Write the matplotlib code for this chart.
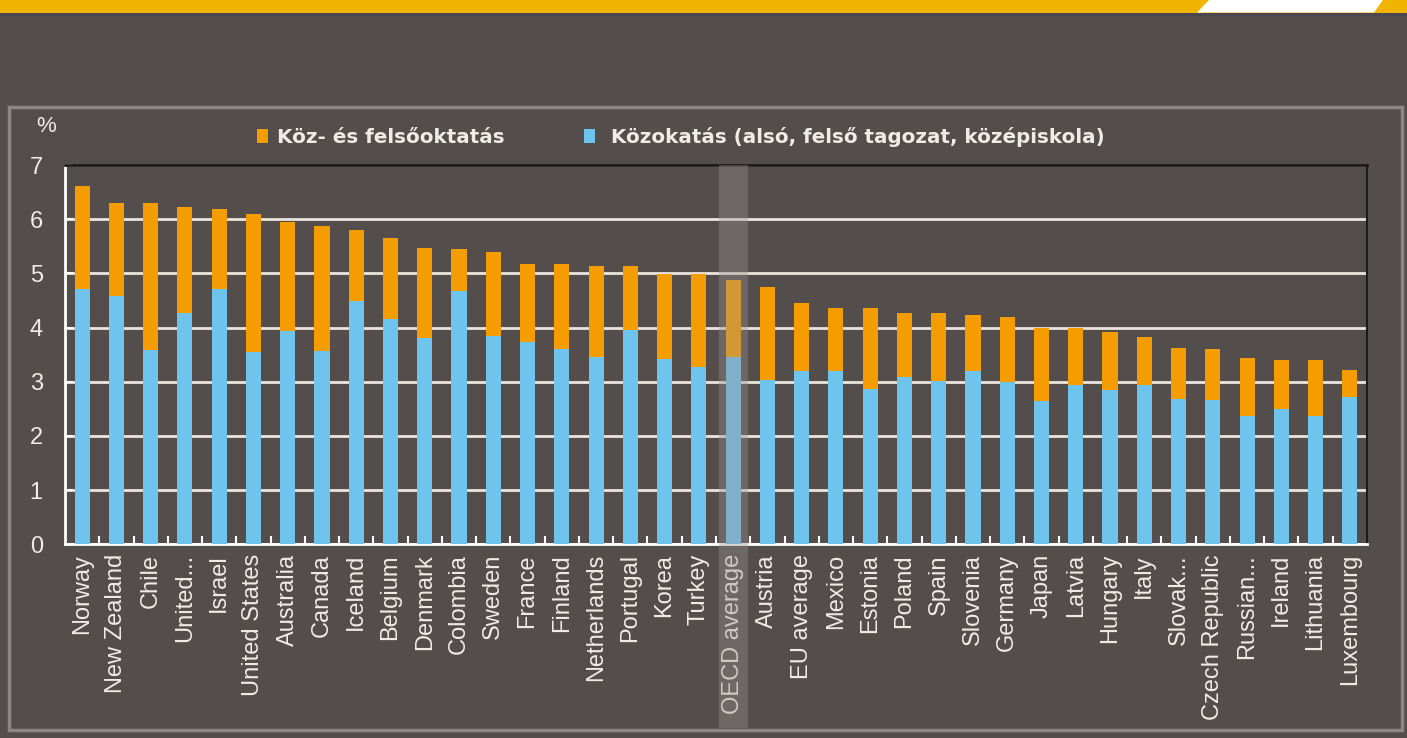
import matplotlib
matplotlib.use("Agg")
import matplotlib.pyplot as plt
import numpy as np
from matplotlib.patches import Rectangle, Polygon

# values (% of GDP)
countries = ["Norway", "New Zealand", "Chile", "United...", "Israel", "United States",
             "Australia", "Canada", "Iceland", "Belgium", "Denmark", "Colombia", "Sweden",
             "France", "Finland", "Netherlands", "Portugal", "Korea", "Turkey", "OECD average",
             "Austria", "EU average", "Mexico", "Estonia", "Poland", "Spain", "Slovenia",
             "Germany", "Japan", "Latvia", "Hungary", "Italy", "Slovak...", "Czech Republic",
             "Russian...", "Ireland", "Lithuania", "Luxembourg"]
kozokatas = [4.71, 4.59, 3.59, 4.27, 4.72, 3.54, 3.94, 3.57, 4.49, 4.16, 3.81, 4.68, 3.85,
             3.73, 3.60, 3.45, 3.96, 3.42, 3.28, 3.46, 3.03, 3.20, 3.19, 2.87, 3.08, 3.02,
             3.20, 2.99, 2.65, 2.94, 2.85, 2.94, 2.68, 2.66, 2.36, 2.50, 2.36, 2.71]
osszes = [6.62, 6.30, 6.30, 6.22, 6.19, 6.10, 5.94, 5.87, 5.80, 5.65, 5.46, 5.45, 5.40,
          5.17, 5.17, 5.13, 5.13, 4.98, 4.98, 4.87, 4.74, 4.45, 4.36, 4.36, 4.27, 4.27,
          4.23, 4.20, 4.00, 4.00, 3.91, 3.83, 3.62, 3.61, 3.43, 3.40, 3.40, 3.22]
highlight = "OECD average"
legend_labels = ["Köz- és felsőoktatás", " Közokatás (alsó, felső tagozat, középiskola)"]

BG = "#534e4b"
ORANGE = "#f49c00"
BLUE = "#6ec4ec"
TXT = "#efebe6"
GRID = "#ebe5de"

W, H = 1407, 738
fig = plt.figure(figsize=(W / 100, H / 100), dpi=100, facecolor=BG)

# decoration: yellow banner and panel frame (pixel coordinates)
deco = fig.add_axes([0, 0, 1, 1], zorder=0)
deco.set_xlim(0, W)
deco.set_ylim(H, 0)
deco.axis("off")
deco.add_patch(Rectangle((0, 0), W, 12.5, color="#f0b400", lw=0))
deco.add_patch(Polygon([(1209, 0), (1197, 12.5), (1374, 12.5), (1383, 0)], color="white", lw=0))
deco.add_patch(Rectangle((0, 12.5), W, 3.5, color="#4a4650", lw=0))
deco.add_patch(Rectangle((9, 107), 1393, 623, fill=False, edgecolor="#8c8784", lw=2.5))

# main chart
ax = fig.add_axes([65 / W, 1 - 544.3 / H, (1367 - 65) / W, (544.3 - 165) / H], zorder=1)
ax.set_facecolor(BG)

x = np.arange(len(countries))
lower = np.array(kozokatas)
upper = np.array(osszes) - lower
b_low = ax.bar(x, lower, width=0.44, color=BLUE, zorder=3)
b_up = ax.bar(x, upper, bottom=lower, width=0.44, color=ORANGE, zorder=3)

ax.set_xlim(-0.5, len(countries) - 0.5)
ax.set_ylim(0, 7)
ax.set_yticks(range(8))
ax.yaxis.grid(True, color=GRID, lw=2)
ax.set_axisbelow(True)

ax.set_xticks(x)
ax.set_xticklabels(countries, rotation=90, fontsize=17, family="Liberation Sans", color=TXT)
ax.set_xticks(x[:-1] + 0.5, minor=True)
ax.tick_params(axis="x", which="major", length=0, pad=7)
ax.tick_params(axis="x", which="minor", direction="in", length=6, width=1.5, color="white")
ax.tick_params(axis="y", direction="in", length=6, width=1.5, color="white",
               labelcolor=TXT, labelsize=17, pad=16)
for lab in ax.get_yticklabels():
    lab.set_family("Liberation Sans")

ax.spines["left"].set_color("white")
ax.spines["left"].set_linewidth(2)
ax.spines["bottom"].set_color("white")
ax.spines["bottom"].set_linewidth(2)
ax.spines["top"].set_color("#1c1a1a")
ax.spines["top"].set_linewidth(2)
ax.spines["right"].set_color("#1c1a1a")
ax.spines["right"].set_linewidth(1.5)

# shaded band over the OECD average column, reaching into the label area
i = countries.index(highlight)
band = ax.axvspan(i - 0.42, i + 0.42, ymin=-0.485, ymax=1, color="#9a9490", alpha=0.38,
                  lw=0, zorder=6)
band.set_clip_on(False)

fig.text(46 / W, 1 - 126 / H, "%", ha="center", va="center", fontsize=16,
         family="Liberation Sans", color=TXT)

fig.legend(handles=[b_up, b_low], labels=legend_labels, loc="center left",
           bbox_to_anchor=(257 / W, 1 - 137 / H), ncol=2, frameon=False,
           prop={"family": "DejaVu Sans", "weight": "bold", "size": 14.3}, labelcolor=TXT,
           handlelength=0.55, handleheight=0.7, handletextpad=0.45, columnspacing=4.0,
           borderpad=0, borderaxespad=0)

fig.savefig("out.png", dpi=100, facecolor=BG)
